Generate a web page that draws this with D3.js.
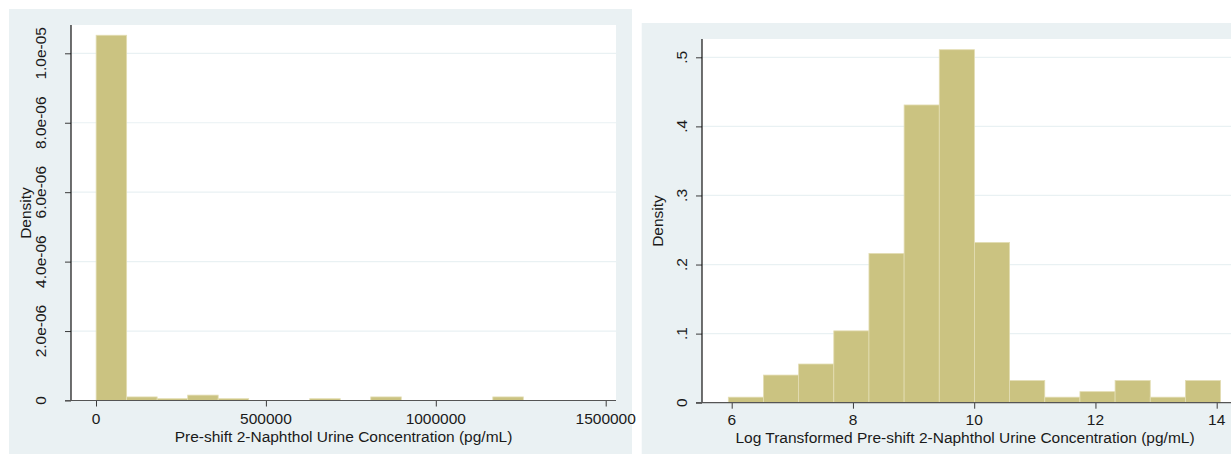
<!DOCTYPE html>
<html>
<head>
<meta charset="utf-8">
<script src="https://cdn.jsdelivr.net/npm/d3@7"></script>
<style>
  html, body { margin: 0; padding: 0; background: #ffffff; }
  svg { display: block; }
  text { font-family: "Liberation Sans", Arial, sans-serif; fill: #1a1a1a; }
</style>
</head>
<body>
<svg id="chart" width="1231" height="454"></svg>
<script>
// ---------- Data ----------
// Left histogram: raw concentration (pg/mL)
const leftBinEdges = [381, 90180, 179980, 269780, 359580, 449380, 539180, 628980, 718780, 808580, 898380, 988180, 1077980, 1167780, 1257580];
const leftDensity = [1.052e-5, 1.03e-7, 5.2e-8, 1.55e-7, 5.2e-8, 0, 0, 5.2e-8, 0, 1.03e-7, 0, 0, 0, 1.03e-7];
const leftXTicks = [0, 500000, 1000000, 1500000];
const leftYTicks = [0, 2e-6, 4e-6, 6e-6, 8e-6, 1e-5];
const leftYTickLabels = ["0", "2.0e-06", "4.0e-06", "6.0e-06", "8.0e-06", "1.0e-05"];
const leftXTitle = "Pre-shift 2-Naphthol Urine Concentration (pg/mL)";

// Right histogram: log-transformed concentration
const rightBinEdges = [5.944, 6.524, 7.104, 7.684, 8.264, 8.844, 9.424, 10.004, 10.584, 11.164, 11.744, 12.324, 12.904, 13.484, 14.064];
const rightDensity = [0.008, 0.040, 0.056, 0.104, 0.216, 0.431, 0.511, 0.232, 0.032, 0.008, 0.016, 0.032, 0.008, 0.032];
const rightXTicks = [6, 8, 10, 12, 14];
const rightYTicks = [0, 0.1, 0.2, 0.3, 0.4, 0.5];
const rightYTickLabels = ["0", ".1", ".2", ".3", ".4", ".5"];
const rightXTitle = "Log Transformed Pre-shift 2-Naphthol Urine Concentration (pg/mL)";

const yTitle = "Density";

// ---------- Styles ----------
const BG = "#eaf1f3";
const GRID = "#e9f1f3";
const BAR = "#cbc381";
const BAR_EDGE = "#e3ddb3";
const AXIS = "#3a3a3a";
const FONT = 15.5;

const svg = d3.select("#chart");

function panel(cfg) {
  const g = svg.append("g");
  g.append("rect").attr("x", cfg.bg[0]).attr("y", cfg.bg[1])
    .attr("width", cfg.bg[2] - cfg.bg[0]).attr("height", cfg.bg[3] - cfg.bg[1])
    .attr("fill", BG);
  g.append("rect").attr("x", cfg.plot[0]).attr("y", cfg.plot[1])
    .attr("width", cfg.plot[2] - cfg.plot[0]).attr("height", cfg.plot[3] - cfg.plot[1])
    .attr("fill", "#ffffff");

  const x = d3.scaleLinear().domain(cfg.xDomain).range(cfg.xRange);
  const y = d3.scaleLinear().domain(cfg.yDomain).range(cfg.yRange);

  g.append("g").selectAll("line").data(cfg.yTicks.filter(d => d !== 0)).join("line")
    .attr("x1", cfg.plot[0]).attr("x2", cfg.plot[2])
    .attr("y1", d => y(d)).attr("y2", d => y(d))
    .attr("stroke", GRID).attr("stroke-width", 1.2);

  const bins = cfg.values.map((v, i) => ({ x0: cfg.edges[i], x1: cfg.edges[i + 1], v }));
  g.append("g").selectAll("rect").data(bins.filter(b => b.v > 0)).join("rect")
    .attr("x", b => x(b.x0))
    .attr("width", b => x(b.x1) - x(b.x0))
    .attr("y", b => y(b.v))
    .attr("height", b => y(0) - y(b.v))
    .attr("fill", BAR)
    .attr("stroke", BAR_EDGE)
    .attr("stroke-width", 0.8);

  const yAxis = d3.axisLeft(y).tickValues(cfg.yTicks)
    .tickFormat((d, i) => cfg.yTickLabels[i]).tickSize(6).tickPadding(0);
  const ya = g.append("g").attr("transform", `translate(${cfg.plot[0]},0)`).call(yAxis);
  ya.select(".domain").remove();
  ya.selectAll(".tick line").attr("stroke", AXIS);
  ya.selectAll(".tick text").remove();
  g.append("line").attr("x1", cfg.plot[0]).attr("x2", cfg.plot[0])
    .attr("y1", cfg.plot[1]).attr("y2", y(0)).attr("stroke", "#111").attr("stroke-width", 1.2);
  g.append("g").selectAll("text").data(cfg.yTicks).join("text")
    .attr("transform", d => `translate(${cfg.yLabelX},${y(d)}) rotate(-90)`)
    .attr("text-anchor", "middle").attr("dominant-baseline", "central")
    .attr("font-size", FONT)
    .text((d, i) => cfg.yTickLabels[i]);

  const xAxis = d3.axisBottom(x).tickValues(cfg.xTicks).tickFormat(d => d).tickSize(6).tickPadding(0);
  const xa = g.append("g").attr("transform", `translate(0,${y(0)})`).call(xAxis);
  xa.select(".domain").remove();
  xa.selectAll(".tick line").attr("stroke", AXIS);
  xa.selectAll(".tick text").remove();
  g.append("line").attr("x1", cfg.plot[0] - 6).attr("x2", cfg.plot[2])
    .attr("y1", y(0)).attr("y2", y(0)).attr("stroke", "#555").attr("stroke-width", 1.2);
  g.append("g").selectAll("text").data(cfg.xTicks).join("text")
    .attr("x", d => x(d)).attr("y", cfg.xLabelY)
    .attr("text-anchor", "middle").attr("dominant-baseline", "central")
    .attr("font-size", FONT)
    .text(d => d);

  g.append("text").attr("x", cfg.xTitlePos[0]).attr("y", cfg.xTitlePos[1])
    .attr("text-anchor", "middle").attr("dominant-baseline", "central")
    .attr("font-size", FONT).text(cfg.xTitle);
  g.append("text")
    .attr("transform", `translate(${cfg.yTitlePos[0]},${cfg.yTitlePos[1]}) rotate(-90)`)
    .attr("text-anchor", "middle").attr("dominant-baseline", "central")
    .attr("font-size", FONT).text(yTitle);
}

panel({
  bg: [9, 9, 632, 454],
  plot: [71, 25, 616, 400.5],
  xDomain: [0, 1500000], xRange: [96, 605.7],
  yDomain: [0, 1e-5], yRange: [400.5, 53.3],
  edges: leftBinEdges, values: leftDensity,
  xTicks: leftXTicks, yTicks: leftYTicks, yTickLabels: leftYTickLabels,
  yLabelX: 40, xLabelY: 418.5,
  xTitle: leftXTitle, xTitlePos: [343.5, 436],
  yTitlePos: [25, 213]
});

panel({
  bg: [641.7, 23, 1231, 454],
  plot: [702, 39, 1231, 402.7],
  xDomain: [6, 14], xRange: [731.7, 1216.7],
  yDomain: [0, 0.5], yRange: [402.7, 57.3],
  edges: rightBinEdges, values: rightDensity,
  xTicks: rightXTicks, yTicks: rightYTicks, yTickLabels: rightYTickLabels,
  yLabelX: 681.7, xLabelY: 419.5,
  xTitle: rightXTitle, xTitlePos: [965, 437.5],
  yTitlePos: [657, 221]
});
</script>
</body>
</html>
